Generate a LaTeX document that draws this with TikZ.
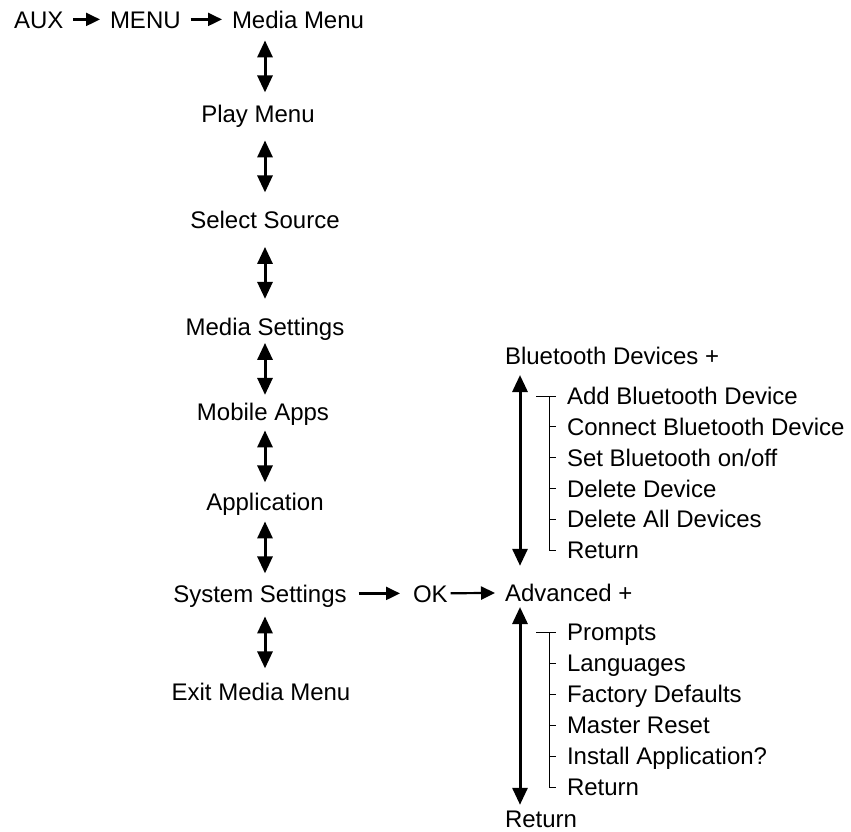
\documentclass[tikz,border=0pt]{standalone}
\usepackage{fontspec}
\setmainfont{Liberation Sans}
\usetikzlibrary{arrows.meta,positioning,calc}

\begin{document}
\begin{tikzpicture}[
    x=0.5pt, y=-0.5pt,
    lbl/.style={
      inner sep=0pt, outer sep=0pt,
      font=\fontsize{12}{14}\selectfont,
      text height=8.6pt, text depth=0pt
    },
    arr/.style={-{Triangle[length=7pt,width=6.5pt]}, line width=1.1pt,
      shorten <=5pt, shorten >=5pt},
    dbl/.style={{Triangle[length=8.5pt,width=7.5pt]}-{Triangle[length=8.5pt,width=7.5pt]},
      line width=1.5pt},
    brk/.style={line width=0.5pt},
  ]
  \useasboundingbox (0,0) rectangle (851,831);

  % Top row
  \node[lbl, anchor=south west] (aux)   at (14,28)  {AUX};
  \node[lbl, anchor=south west] (menu)  at (110,28) {MENU};
  \node[lbl, anchor=south west] (mmenu) at (232,28) {Media Menu};

  % Main column
  \coordinate (col) at (265,0);
  \node[lbl, anchor=south] (play)   at (258,122) {Play Menu};
  \node[lbl, anchor=south] (source) at (265,228) {Select Source};
  \node[lbl, anchor=south] (mset)   at (265,335) {Media Settings};
  \node[lbl, anchor=south] (apps)   at (263,420) {Mobile Apps};
  \node[lbl, anchor=south] (appl)   at (265,510) {Application};
  \node[lbl, anchor=south] (sys)    at (260,602) {System Settings};
  \node[lbl, anchor=south] (exit)   at (261,700) {Exit Media Menu};

  % System settings branch
  \node[lbl, anchor=south west] (ok)  at (413,602) {OK};
  \node[lbl, anchor=south west] (bt)  at (505,364) {Bluetooth Devices +};
  \node[lbl, anchor=south west] (adv) at (505,601) {Advanced +};
  \node[lbl, anchor=south west] (ret) at (505,827) {Return};

  % Bluetooth submenu
  \node[lbl, anchor=west] (bt1) at (567,396)   {Add Bluetooth Device};
  \node[lbl, anchor=west] (bt2) at (567,426.8) {Connect Bluetooth Device};
  \node[lbl, anchor=west] (bt3) at (567,457.6) {Set Bluetooth on/off};
  \node[lbl, anchor=west] (bt4) at (567,488.4) {Delete Device};
  \node[lbl, anchor=west] (bt5) at (567,519.2) {Delete All Devices};
  \node[lbl, anchor=west] (bt6) at (567,550)   {Return};

  % Advanced submenu
  \node[lbl, anchor=west] (av1) at (567,632) {Prompts};
  \node[lbl, anchor=west] (av2) at (567,663) {Languages};
  \node[lbl, anchor=west] (av3) at (567,694) {Factory Defaults};
  \node[lbl, anchor=west] (av4) at (567,725) {Master Reset};
  \node[lbl, anchor=west] (av5) at (567,756) {Install Application?};
  \node[lbl, anchor=west] (av6) at (567,787) {Return};

  % Edges - top row
  \draw[arr] (aux)  -- (menu);
  \draw[arr] (menu) -- (mmenu);

  % Edges - main column
  \foreach \a/\b in {mmenu/play, play/source, source/mset, mset/apps,
                     apps/appl, appl/sys, sys/exit} {
    \coordinate (m) at ($(\a.south -| col)!.5!(\b.north -| col)$);
    \draw[dbl] ([yshift=13pt]m) -- ([yshift=-13pt]m);
  }

  % Edges - branch
  \draw[arr, shorten <=6pt, shorten >=6.5pt] (sys) -- (ok);
  \draw[arr, shorten <=1.5pt] (ok) -- (adv);
  \draw[dbl] ([shift={(15,11)}]bt.south west) -- ([shift={(15,-18)}]adv.north west);
  \draw[dbl] ([shift={(15,6)}]adv.south west) -- ([shift={(15,-5)}]ret.north west);

  % Brackets
  \foreach \s in {bt, av} {
    \draw[brk] ([xshift=-15.5pt]\s1.west) -- ([xshift=-5.5pt]\s1.west);
    \draw[brk] ([xshift=-9pt]\s1.west) |- ([xshift=-5.5pt]\s6.west);
    \foreach \i in {2,...,5}
      \draw[brk] ([xshift=-9pt]\s\i.west) -- ([xshift=-5.5pt]\s\i.west);
  }

\end{tikzpicture}
\end{document}
